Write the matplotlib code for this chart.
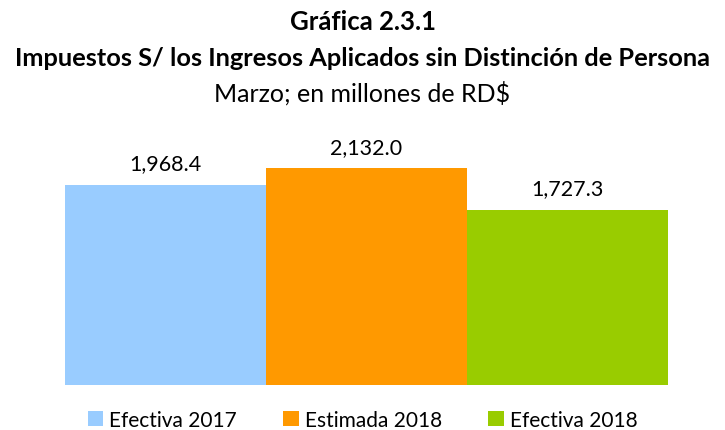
import matplotlib
matplotlib.use("Agg")
import matplotlib.pyplot as plt
from matplotlib.patches import Patch

categories = ["Efectiva 2017", "Estimada 2018", "Efectiva 2018"]
values = [1968.4, 2132.0, 1727.3]
colors = ["#99CCFF", "#FF9900", "#99CC00"]

plt.rcParams['font.family'] = ['Lato', 'DejaVu Sans']

fig = plt.figure(figsize=(7.25, 4.31), dpi=100)
ax = fig.add_axes([65/725, 1-386/431, (668-65)/725, (386-132)/431])
x = list(range(len(categories)))
ax.bar(x, values, width=1.0, color=colors, align='center')
ax.set_xlim(-0.5, len(categories)-0.5)
ax.set_ylim(0, 2500)
for xi, v in zip(x, values):
    ax.text(xi, v + 155, f"{v:,.1f}", ha='center', va='baseline', fontsize=15.5, color='#000000')
ax.axis('off')

fig.text(0.5, 1-22/431, "Gráfica 2.3.1", ha='center', va='center', fontsize=18.5, fontweight='bold')
fig.text(0.5, 1-59/431, "Impuestos S/ los Ingresos Aplicados sin Distinción de Persona", ha='center', va='center', fontsize=18.3, fontweight='bold')
fig.text(0.5, 1-93/431, "Marzo; en millones de RD$", ha='center', va='center', fontsize=18)

handles = [Patch(facecolor=c, label=l) for c, l in zip(colors, categories)]
fig.legend(handles=handles, loc='center', bbox_to_anchor=(0.5, 1-421/431), ncol=3, frameon=False,
           fontsize=15, handlelength=0.75, handleheight=0.75, handletextpad=0.3, columnspacing=2.2)

fig.savefig("out.png", dpi=100)
